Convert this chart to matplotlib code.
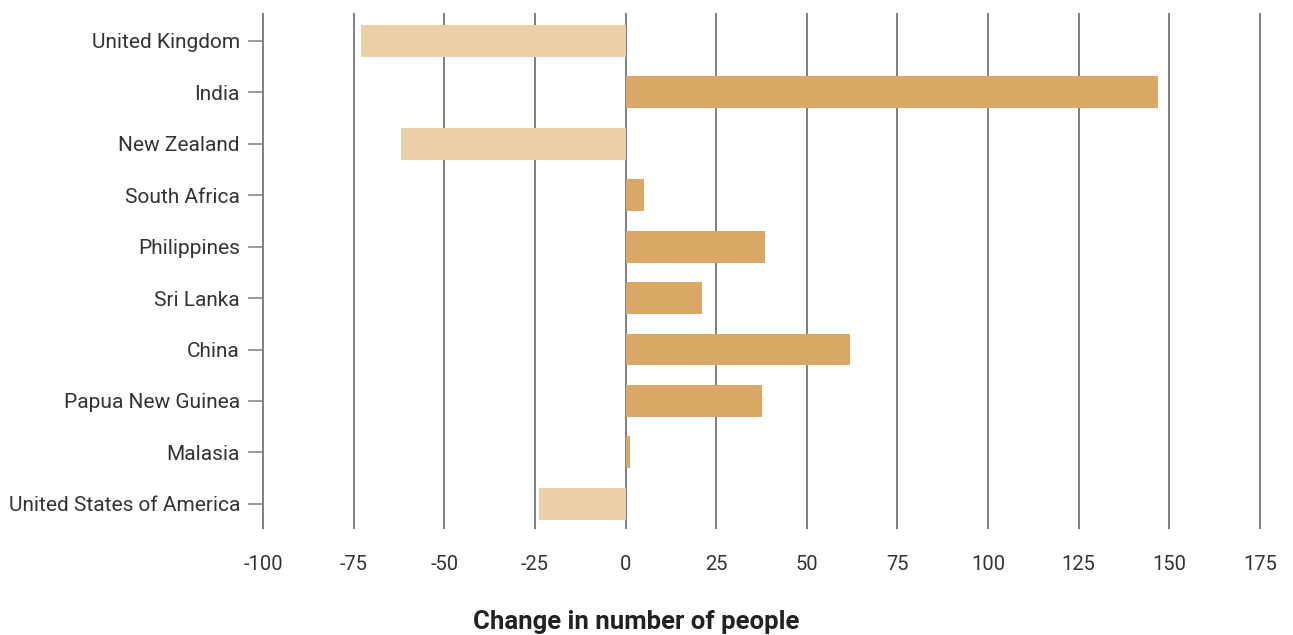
import matplotlib
matplotlib.use('Agg')
import matplotlib.pyplot as plt

countries = ['United Kingdom', 'India', 'New Zealand', 'South Africa', 'Philippines',
             'Sri Lanka', 'China', 'Papua New Guinea', 'Malasia', 'United States of America']
change = [-73, 147, -62, 5, 38.5, 21, 62, 37.5, 1.2, -24]
xticks = [-100, -75, -50, -25, 0, 25, 50, 75, 100, 125, 150, 175]

POS_COLOR = '#D9A864'
NEG_COLOR = '#EBCFA7'

plt.rcParams['font.family'] = ['Roboto', 'DejaVu Sans']

fig = plt.figure(figsize=(12.93, 6.35), dpi=100)
ax = fig.add_axes([263 / 1293, 1 - 528 / 635, (1260 - 263) / 1293, (528 - 14) / 635])

ypos = list(range(len(countries)))
colors = [POS_COLOR if v >= 0 else NEG_COLOR for v in change]
ax.barh(ypos, change, height=0.62, color=colors, zorder=3)

ax.set_xlim(-100, 175)
ax.set_ylim(9.47, -0.525)
ax.set_xticks(xticks)
ax.set_xticklabels([str(t) for t in xticks])
ax.set_yticks(ypos)
ax.set_yticklabels(countries)

# vertical gridlines drawn under the bars
for t in xticks:
    ax.axvline(t, color='#7f7f7f', lw=1.4, zorder=1, clip_on=False)

for s in ax.spines.values():
    s.set_visible(False)

ax.tick_params(axis='x', length=0, pad=19.5, labelsize=14.5, labelcolor='#333333')
ax.tick_params(axis='y', length=10.8, width=1.1, color='#808080', pad=5.8,
               labelsize=15, labelcolor='#333333')

fig.text(636 / 1293, 1 - 622 / 635, 'Change in number of people', fontsize=18.5,
         fontweight='bold', color='#222222', ha='center', va='center')

fig.savefig('out.png', dpi=100)
